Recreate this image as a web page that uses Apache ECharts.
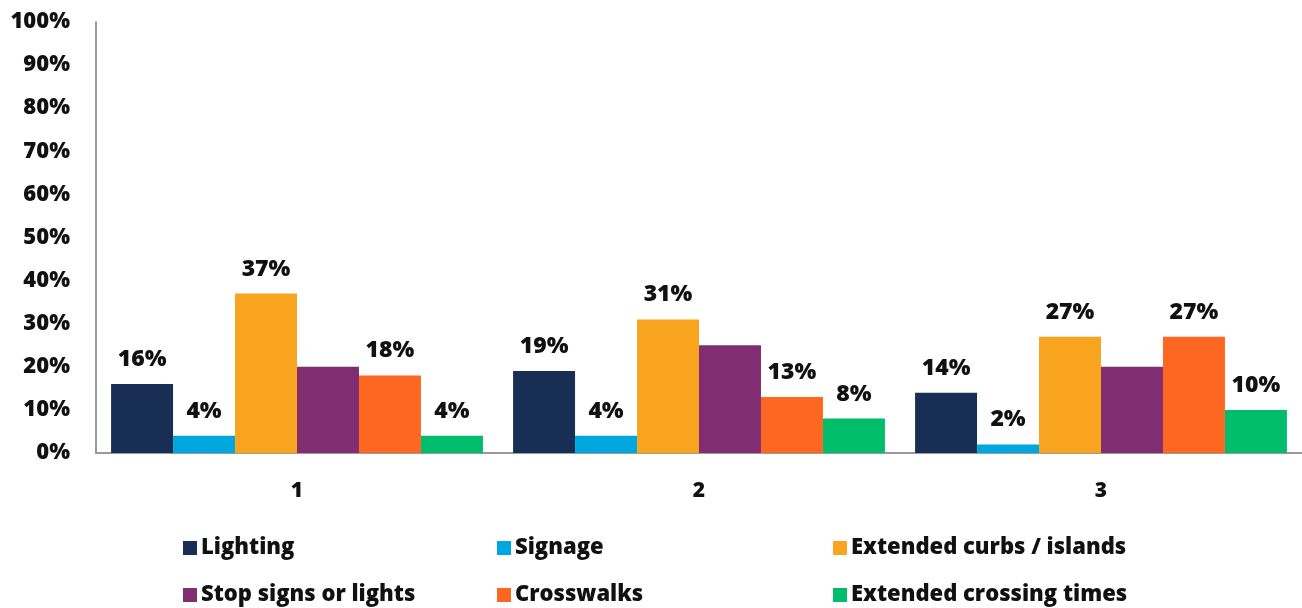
<!DOCTYPE html>
<html><head><meta charset="utf-8">
<script src="https://cdn.jsdelivr.net/npm/echarts@6/dist/echarts.min.js"></script>
<style>html,body{margin:0;padding:0;background:#fff}#c{width:1302px;height:608px}</style>
</head><body><div id="c"></div>
<script>
const categories = ['1', '2', '3'];
const seriesNames = ['Lighting', 'Signage', 'Extended curbs / islands', 'Stop signs or lights', 'Crosswalks', 'Extended crossing times'];
const lighting = [16, 19, 14];
const signage = [4, 4, 2];
const curbs = [37, 31, 27];
const stopSigns = [20, 25, 20];
const crosswalks = [18, 13, 27];
const crossingTimes = [4, 8, 10];
const showLabel = [true, true, true, false, true, true];
const colors = ['#182e55', '#00a6de', '#f8a41f', '#802d72', '#fe6721', '#00bd6c'];
const values = [lighting, signage, curbs, stopSigns, crosswalks, crossingTimes];

const font = '"Open Sans", "DejaVu Sans", sans-serif';
const chart = echarts.init(document.getElementById('c'));
const mkLegend = (names, left) => ({
  data: names, left: left, top: 537, height: 120, orient: 'vertical', itemGap: 25,
  itemWidth: 14, itemHeight: 14, icon: 'rect', padding: 0,
  textStyle: {fontFamily: font, fontWeight: 800, fontSize: 22, color: '#111', padding: [0, 0, 0, -1]}
});
chart.setOption({
  animation: false,
  color: colors,
  grid: {left: 96, right: 0, top: 22, bottom: 155, containLabel: false},
  legend: [
    mkLegend([seriesNames[0], seriesNames[3]], 183),
    mkLegend([seriesNames[1], seriesNames[4]], 497),
    mkLegend([seriesNames[2], seriesNames[5]], 833)
  ],
  xAxis: {
    type: 'category', data: categories,
    axisLine: {lineStyle: {color: '#9a9a9a', width: 2}},
    axisTick: {show: false},
    axisLabel: {fontFamily: font, fontWeight: 800, fontSize: 21, color: '#111', margin: 28}
  },
  yAxis: {
    type: 'value', min: 0, max: 100, interval: 10,
    axisLine: {show: true, lineStyle: {color: '#9a9a9a', width: 2}},
    axisTick: {show: false},
    splitLine: {show: false},
    axisLabel: {formatter: '{value}%', fontFamily: font, fontWeight: 800, fontSize: 22, color: '#111', margin: 26}
  },
  series: values.map((v, i) => ({
    name: seriesNames[i], type: 'bar', data: v,
    barGap: '0%', barCategoryGap: '7.5%',
    label: {show: showLabel[i], position: 'top', distance: 13, formatter: '{c}%',
      fontFamily: font, fontWeight: 800, fontSize: 23, color: '#111'}
  }))
});
</script></body></html>
